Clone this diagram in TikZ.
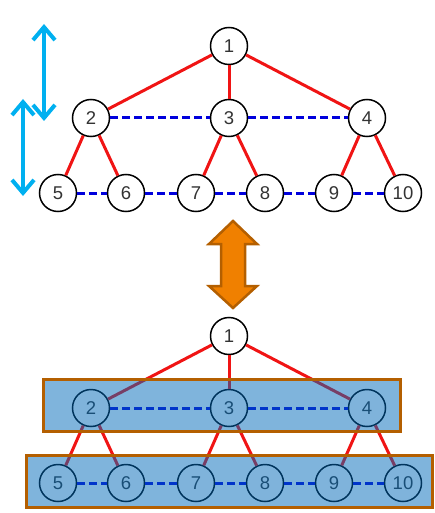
\documentclass[tikz,border=0pt]{standalone}
\usepackage{fontspec}
\setmainfont{Liberation Sans}
\usetikzlibrary{arrows.meta}
\definecolor{edgered}{RGB}{240,20,20}
\definecolor{levelblue}{RGB}{0,0,220}
\definecolor{skyarrow}{RGB}{0,176,240}
\definecolor{boxfill}{RGB}{0,105,185}
\definecolor{boxedge}{RGB}{180,95,0}
\definecolor{bigarrow}{RGB}{240,128,0}
\tikzset{
  vtx/.style={circle,draw=black,line width=1.5pt,fill=white,minimum size=37pt,
    inner sep=0pt,text=black!80,font=\fontsize{18.5}{21}\selectfont},
  tree/.style={draw=edgered,line width=3pt},
  level/.style={draw=levelblue,line width=3pt,dash pattern=on 8pt off 4pt},
  depth/.style={draw=skyarrow,line width=4pt,
    {Straight Barb[length=13pt,width=22pt]}-{Straight Barb[length=13pt,width=22pt]}},
  layer/.style={fill=boxfill,fill opacity=0.5,draw=boxedge,draw opacity=1,line width=3pt}
}
\begin{document}
\begin{tikzpicture}[x=1pt,y=-1pt]
    \useasboundingbox (0,0) rectangle (434,513);
    % Two copies of the tree
    \foreach \p/\dy in {t/0,b/290} {
        \foreach \n/\x/\y in {1/229/46,2/91/118,3/229/118,4/367/118,
                              5/58/193,6/126/193,7/196/193,8/265/193,9/334/193,10/403/193}
            \node[vtx] (\p\n) at (\x,\y+\dy) {\n};
        \foreach \a/\b in {1/2,1/3,1/4,2/5,2/6,3/7,3/8,4/9,4/10}
            \draw[tree] (\p\a) -- (\p\b);
        \foreach \a/\b in {2/3,3/4,5/6,6/7,7/8,8/9,9/10}
            \draw[level] (\p\a) -- (\p\b);
    }
    % Depth arrows
    \draw[depth] (44,24) -- (44,121);
    \draw[depth] (23,99) -- (23,196);
    % Orange double arrow
    \draw[fill=bigarrow,draw=boxedge,line width=2.5pt,line join=miter]
        (233,221) -- (257,244) -- (245,244) -- (245,286) -- (257,286) -- (233,308)
        -- (209,286) -- (221,286) -- (221,244) -- (209,244) -- cycle;
    % Layers
    \draw[layer] (43,379) rectangle (400,431);
    \draw[layer] (26,455) rectangle (432,507);
\end{tikzpicture}
\end{document}
